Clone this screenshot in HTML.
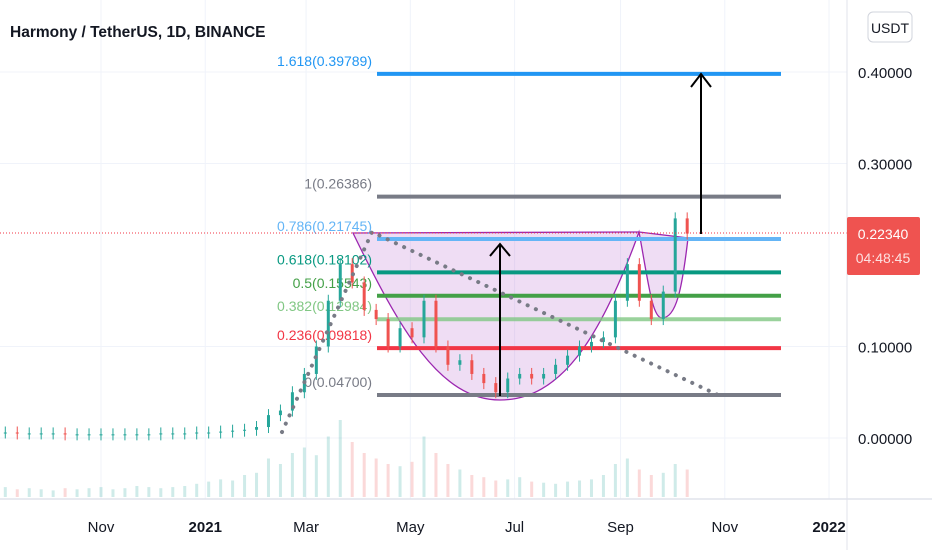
<!DOCTYPE html>
<html><head><meta charset="utf-8"><style>
body{margin:0;background:#fff;font-family:"Liberation Sans",sans-serif;}
svg{display:block}
text{font-family:"Liberation Sans",sans-serif}
</style></head><body>
<svg id="c" width="932" height="550">
<rect width="932" height="550" fill="#fff"/>
<g id="grid"></g>
<g id="vol"></g>
<path id="cup" fill="rgba(190,120,210,0.25)" stroke="#9c27b0" stroke-width="1.3"/>
<g id="fib"></g>
<g id="candles"></g>
<polyline points="282,432 372,232 718,395" fill="none" stroke="#787b86" stroke-width="4" stroke-linecap="round" stroke-dasharray="0.1 9"/>
<g stroke="#000" stroke-width="2" fill="none"><line x1="500" y1="396" x2="500" y2="244"/><polyline points="490,256 500,244 510,256"/></g>
<g stroke="#000" stroke-width="2" fill="none"><line x1="701" y1="234" x2="701" y2="74"/><polyline points="691,87 701,74 711,87"/></g>
<line x1="0" y1="233" x2="847" y2="233" stroke="#f23645" stroke-width="1" stroke-dasharray="1 2"/>
<line x1="847" y1="0" x2="847" y2="550" stroke="#e0e3eb"/>
<line x1="0" y1="499" x2="932" y2="499" stroke="#e0e3eb" stroke-width="1.5"/>
<g id="yax"></g>
<g id="xax"></g>
<text x="10" y="37" font-size="15.5" font-weight="bold" fill="#131722">Harmony / TetherUS, 1D, BINANCE</text>
<g><rect x="868" y="12" width="44" height="30" rx="5" fill="#fff" stroke="#d1d4dc"/><text x="890" y="33" font-size="14" text-anchor="middle" fill="#131722">USDT</text></g>
<g><rect x="847" y="217" width="73" height="58" rx="2" fill="#ef5350"/><text x="883" y="239" font-size="14" text-anchor="middle" fill="#fff">0.22340</text><text x="883" y="263" font-size="14" text-anchor="middle" fill="#fde0e0">04:48:45</text></g>
</svg>
<script>
const yTicks=[0.4,0.3,0.1,0.0];
const yTickLabels=["0.40000","0.30000","0.10000","0.00000"];
const monthLabels=["Nov","2021","Mar","May","Jul","Sep","Nov","2022"];
const monthDays=[0,61,120,181,242,304,365,426];
const fibRatios=["1.618","1","0.786","0.618","0.5","0.382","0.236","0"];
const fibValues=[0.39789,0.26386,0.21745,0.18102,0.15543,0.12984,0.09818,0.04700];
const fibColors=["#2196f3","#787b86","#64b5f6","#089981","#43a047","#81c784","#f23645","#787b86"];
const closes=[0.006,0.006,0.005,0.005,0.005,0.005,0.004,0.004,0.004,0.004,0.004,0.004,0.004,0.004,0.005,0.005,0.005,0.006,0.006,0.007,0.008,0.009,0.012,0.025,0.03,0.05,0.07,0.10,0.15,0.19,0.17,0.14,0.13,0.10,0.12,0.11,0.15,0.10,0.08,0.085,0.07,0.06,0.05,0.065,0.07,0.065,0.07,0.08,0.09,0.10,0.105,0.11,0.15,0.19,0.15,0.13,0.16,0.24,0.2234];
const volumes=[8,9,7,8,7,6,8,7,8,9,7,8,10,9,8,9,10,12,14,16,15,20,22,35,30,40,45,38,55,70,50,40,35,30,28,32,55,40,30,25,20,18,15,16,18,14,13,12,14,15,16,20,30,35,25,20,22,30,25];
const NS="http://www.w3.org/2000/svg";
function yS(v){return 438-v*915;}
function xD(d){return 101+d*1.709;}
function xW(i){return xD(-63+i*7);}
function mk(t,a,p){const e=document.createElementNS(NS,t);for(const k in a)e.setAttribute(k,a[k]);p.appendChild(e);return e;}
const grid=document.getElementById('grid'),yax=document.getElementById('yax'),xax=document.getElementById('xax');
yTicks.forEach((v,i)=>{const l=mk('line',{x1:0,x2:847,y1:yS(v),y2:yS(v),stroke:'#f0f3fa'},grid);


const t=mk('text',{x:858,y:yS(v)+6,'font-size':15,fill:'#131722'},yax);t.textContent=yTickLabels[i];

});
monthDays.forEach((d,i)=>{const l=mk('line',{x1:xD(d),x2:xD(d),y1:0,y2:499,stroke:'#f0f3fa'},grid);


const b=(monthLabels[i]==="2021"||monthLabels[i]==="2022");
const t=mk('text',{x:xD(d),y:532,'font-size':15,'text-anchor':'middle',fill:'#131722','font-weight':b?'bold':'normal'},xax);t.textContent=monthLabels[i];

});
const vol=document.getElementById('vol');
volumes.forEach((v,i)=>{const up=i==0||closes[i]>=closes[i-1];const h=v*1.1;
const r=mk('rect',{x:xW(i)-1.5,y:497-h,width:3,height:h,fill:up?'rgba(38,166,154,0.22)':'rgba(239,83,80,0.22)'},vol);

});
document.getElementById('cup').setAttribute('d','M353,233 C400,330 440,400 500,400 C560,400 600,340 639,232 C648,280 652,318 662,318 C676,318 682,290 688,238 L639,232 L353,233 Z');
const fib=document.getElementById('fib');
fibValues.forEach((v,i)=>{const y=yS(v);
const l=mk('line',{x1:377,x2:781,y1:y,y2:y,stroke:fibColors[i],'stroke-width':4,opacity:i==5?0.8:1},fib);


const t=mk('text',{x:372,y:y-8,'font-size':14,'text-anchor':'end',fill:fibColors[i]},fib);t.textContent=fibRatios[i]+'('+v.toFixed(5)+')';

});
const cg=document.getElementById('candles');
closes.forEach((c,i)=>{const o=i==0?c:closes[i-1];const up=c>=o;const col=up?'#26a69a':'#ef5350';
const x=xW(i);const top=yS(Math.max(o,c)),bot=yS(Math.min(o,c));
const w=mk('line',{x1:x,x2:x,y1:top-6,y2:bot+6,stroke:col,'stroke-width':1},cg);


const r=mk('rect',{x:x-1.5,y:top,width:3,height:Math.max(1,bot-top),fill:col},cg);

});
</script>
</body></html>
